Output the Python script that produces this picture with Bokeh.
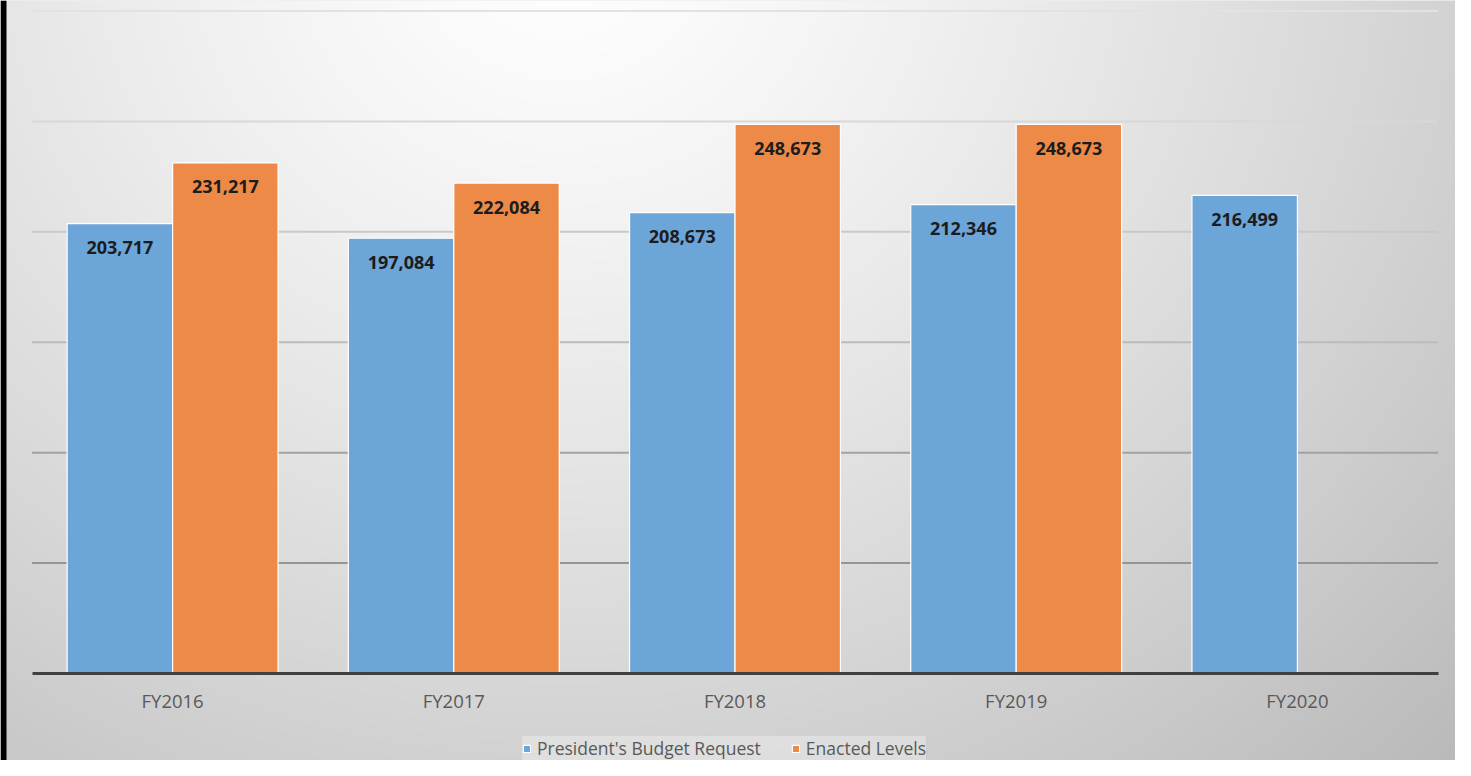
import numpy as np
from bokeh.plotting import figure
from bokeh.models import (Range1d, ColumnDataSource, Legend, LegendItem, FixedTicker)
from bokeh.core.properties import value
from bokeh.embed import file_html
from bokeh.resources import INLINE

# ---- data ----
categories = ["FY2016", "FY2017", "FY2018", "FY2019", "FY2020"]
request = [203717, 197084, 208673, 212346, 216499]
enacted = [231217, 222084, 248673, 248673, None]
grid_values = [50000, 100000, 150000, 200000, 250000, 300000]
series_names = ["President's Budget Request", "Enacted Levels"]

# ---- style ----
W, H = 1455, 760
BLUE = "#6ca5d8"
ORANGE = "#ee8a48"
FONT = "Open Sans"
grid_colors = ["#959595", "#a2a2a2", "#bbbbbb", "#c9c9c9", "#d8d8d8", "#e2e2e2"]
BAR_W = 0.375

px_per_unit = (673 - 10.5) / 300000.0
y0_px = 673
ymax = y0_px / px_per_unit
ymin = -(H - y0_px) / px_per_unit

n = len(categories)
unit_px = 281.2
xmin = -31.5 / unit_px
xmax = (W - 31.5) / unit_px

p = figure(
    x_range=Range1d(xmin, xmax), y_range=Range1d(ymin, ymax),
    width=W, height=H, output_backend="svg", toolbar_location=None,
    y_axis_location=None, min_border=0,
)
p.outline_line_color = None
p.xgrid.visible = False
p.ygrid.visible = False
p.background_fill_color = "#e0e0e0"
p.border_fill_color = "#e0e0e0"

# ---- background radial gradient (with the black left frame edge) ----
hh, ww = H // 2, W // 2
ys, xs = np.mgrid[0:hh, 0:ww]
rx_ref = xs * 2.0
ry_ref = (hh - 1 - ys) * 2.0  # row 0 = bottom
r = np.sqrt(((rx_ref - 560) / 1100.0) ** 2 + ((ry_ref + 60) / 1000.0) ** 2)
r = np.clip(r, 0, 1.15)
inten = np.clip(255 - 58 * r ** 1.25, 0, 255).astype(np.uint32)
inten[:, :3] = 0
img = (np.uint32(255) << 24) | (inten << 16) | (inten << 8) | inten
p.image_rgba(image=[img.astype(np.uint32)], x=xmin, y=ymin, dw=xmax - xmin, dh=ymax - ymin,
             level="image")

# ---- gridlines ----
p.segment(x0=[0] * len(grid_values), x1=[n] * len(grid_values), y0=grid_values, y1=grid_values,
          line_color=grid_colors, line_width=2, level="underlay")

# ---- bars ----
centers = [i + 0.5 for i in range(n)]
src_req = ColumnDataSource(dict(x=[c - BAR_W / 2 for c in centers], val=request,
                                lab=[f"{v:,}" for v in request]))
enc_x = [c + BAR_W / 2 for c, v in zip(centers, enacted) if v is not None]
enc_vals = [v for v in enacted if v is not None]
src_enc = ColumnDataSource(dict(x=enc_x, val=enc_vals, lab=[f"{v:,}" for v in enc_vals]))

r1 = p.vbar(x="x", top="val", width=BAR_W, source=src_req,
            fill_color=BLUE, line_color="white", line_width=1.2)
r2 = p.vbar(x="x", top="val", width=BAR_W, source=src_enc,
            fill_color=ORANGE, line_color="white", line_width=1.2)

for src in (src_req, src_enc):
    p.text(x="x", y="val", text="lab", source=src,
           text_align="center", text_baseline="middle", y_offset=24,
           text_font=value(FONT), text_font_style="bold", text_font_size="18px",
           text_color="#1c1c1c")

# ---- axis ----
ax = p.xaxis[0]
ax.fixed_location = 0
ax.bounds = (0, n)
ax.ticker = FixedTicker(ticks=centers)
ax.major_label_overrides = {c: cat for c, cat in zip(centers, categories)}
ax.axis_line_color = "#404040"
ax.axis_line_width = 3
ax.major_tick_line_color = None
ax.minor_tick_line_color = None
ax.major_label_text_color = "#595959"
ax.major_label_text_font = FONT
ax.major_label_text_font_size = "18.5px"
ax.major_label_standoff = 8

# ---- legend ----
legend = Legend(items=[LegendItem(label=series_names[0], renderers=[r1]),
                       LegendItem(label=series_names[1], renderers=[r2])],
                orientation="horizontal", location=(522, 0), margin=0, padding=10,
                spacing=30, glyph_width=9, glyph_height=9, label_height=20,
                label_standoff=6, label_text_font=FONT, label_text_font_size="17.5px",
                label_text_color="#595959", background_fill_color="white",
                background_fill_alpha=0.3, border_line_color=None)
p.add_layout(legend)

open("out.html", "w").write(file_html(p, INLINE))
